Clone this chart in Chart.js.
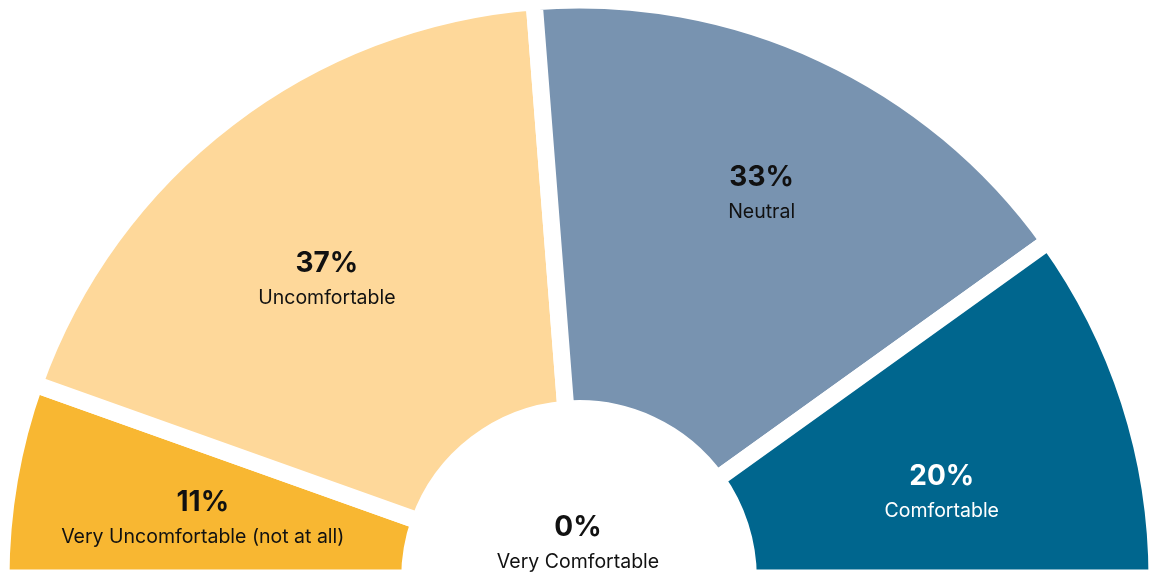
<!DOCTYPE html>
<html>
<head>
<meta charset="utf-8">
<script src="https://cdn.jsdelivr.net/npm/chart.js@4.4.1/dist/chart.umd.min.js"></script>
<style>
  html, body { margin: 0; padding: 0; background: #fff; overflow: hidden; }
  #wrap { width: 1158px; height: 578px; }
</style>
</head>
<body>
<div id="wrap"><canvas id="comfortChart"></canvas></div>
<script>
// Опрос: насколько комфортно (в %)
var categories = ['Very Uncomfortable (not at all)', 'Uncomfortable', 'Neutral', 'Comfortable', 'Very Comfortable'];
var percents = [11, 37, 33, 20, 0];
var colors = ['#F8B732', '#FED89A', '#7893B0', '#00668E', '#1F3A5F'];

// Подписи внутри секторов: крупный процент и название под ним
var sliceLabels = {
    id: 'sliceLabels',
    afterDatasetsDraw: function(chart, args, opts) {
        var ctx = chart.ctx;
        var meta = chart.getDatasetMeta(0);
        ctx.save();
        ctx.textAlign = 'center';
        ctx.textBaseline = 'alphabetic';
        meta.data.forEach(function(arc, i) {
            var x = arc.x, y = arc.y;
            if (percents[i] !== 0) {
                var mid = (arc.startAngle + arc.endAngle) / 2;
                var r = (arc.innerRadius + arc.outerRadius) / 2;
                x += Math.cos(mid) * r;
                y += Math.sin(mid) * r;
            }
            // ручная подгонка положения подписей
            x += opts.nudge[i][0];
            y += opts.nudge[i][1];
            ctx.fillStyle = opts.textColors[i];
            ctx.font = 'bold 28px Inter';
            ctx.fillText(percents[i] + '%', x, y - 16);
            ctx.font = '19.5px Inter';
            ctx.fillText(categories[i], x, y + 16);
        });
        ctx.restore();
    }
};

var ctx = document.getElementById('comfortChart').getContext('2d');
var chart = new Chart(ctx, {
    type: 'doughnut',
    data: {
        labels: categories,
        datasets: [{
            data: percents,
            backgroundColor: colors,
            borderColor: '#fff',
            borderWidth: 17
        }]
    },
    options: {
        responsive: true,
        maintainAspectRatio: false,
        animation: false,
        rotation: -90,
        circumference: 180,
        radius: 578,
        cutout: '29.3%',
        plugins: {
            legend: { display: false },
            tooltip: { enabled: false },
            sliceLabels: {
                nudge: [[-8, 13], [-25, 7], [25, -37], [7, 37], [-1, -26]],
                textColors: ['#111', '#111', '#111', '#fff', '#111']
            }
        }
    },
    plugins: [sliceLabels]
});
</script>
</body>
</html>
